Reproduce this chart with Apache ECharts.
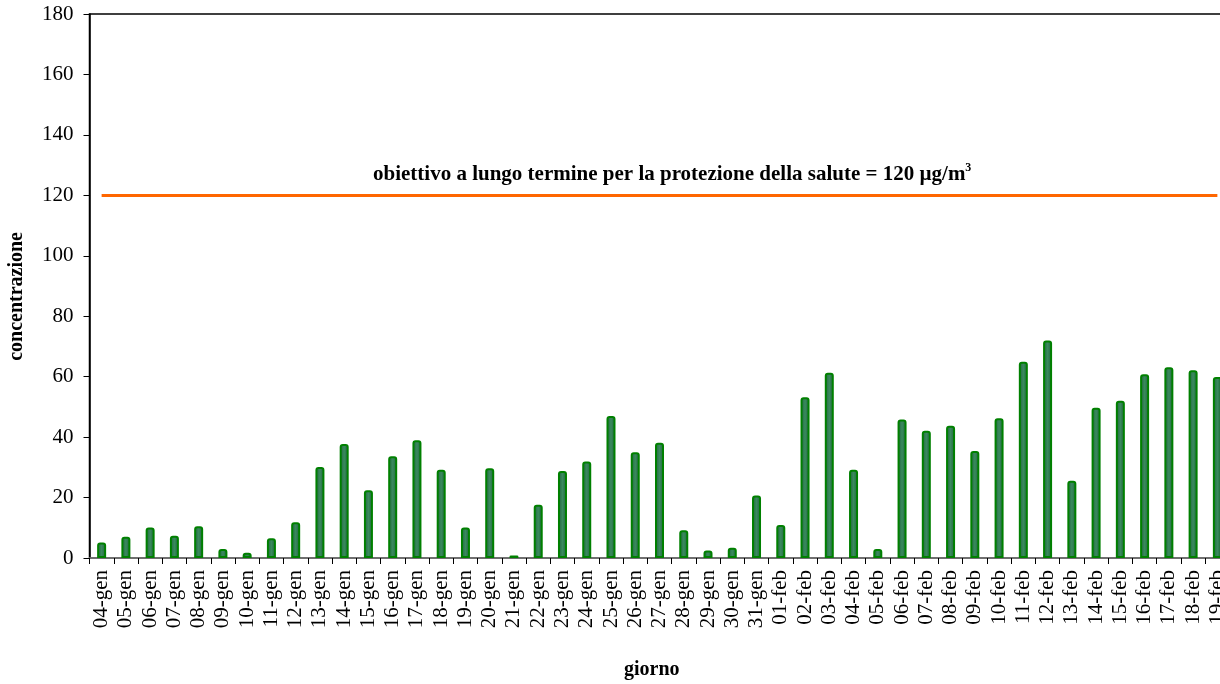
<!DOCTYPE html>
<html>
<head>
<meta charset="utf-8">
<script src="https://cdn.jsdelivr.net/npm/echarts@6/dist/echarts.min.js"></script>
<style>
html,body{margin:0;padding:0;background:#fff;}
#chart{width:1220px;height:684px;}
</style>
</head>
<body>
<div id="chart"></div>
<script>
var categories = ['04-gen','05-gen','06-gen','07-gen','08-gen','09-gen','10-gen','11-gen','12-gen','13-gen','14-gen','15-gen','16-gen','17-gen','18-gen','19-gen','20-gen','21-gen','22-gen','23-gen','24-gen','25-gen','26-gen','27-gen','28-gen','29-gen','30-gen','31-gen','01-feb','02-feb','03-feb','04-feb','05-feb','06-feb','07-feb','08-feb','09-feb','10-feb','11-feb','12-feb','13-feb','14-feb','15-feb','16-feb','17-feb','18-feb','19-feb'];
var concentrazione = [5.1,7.0,10.1,7.4,10.5,3.0,1.7,6.5,11.8,30.1,37.7,22.4,33.7,39.0,29.2,10.1,29.7,0.8,17.6,28.8,31.9,47.0,35.0,38.1,9.2,2.5,3.4,20.7,10.9,53.2,61.3,29.2,3.0,45.8,42.1,43.8,35.4,46.2,64.9,72.0,25.6,49.7,52.0,60.8,63.1,62.1,59.9];
var obiettivo = 120;
var yTicks = {min:0, max:180, interval:20};

var serif = 'Liberation Serif';
var chart = echarts.init(document.getElementById('chart'));
chart.setOption({
  animation:false,
  backgroundColor:'#fff',
  title:{
    text:'{a|obiettivo a lungo termine per la protezione della salute = ' + obiettivo + ' µg/m}{s|3}',
    left:368, top:157,
    textStyle:{
      rich:{
        a:{fontFamily:serif, fontWeight:'bold', fontSize:21, color:'#000'},
        s:{fontFamily:serif, fontWeight:'bold', fontSize:12, color:'#000', verticalAlign:'top', padding:[0,0,14,0]}
      }
    }
  },
  graphic:[
    {type:'text', left:7, top:232, rotation:Math.PI/2, style:{text:'concentrazione', font:'bold 20px "Liberation Serif"', fill:'#000'}},
    {type:'text', left:624, top:660, style:{text:'giorno', font:'bold 20px "Liberation Serif"', fill:'#000'}}
  ],
  grid:{left:89.5, top:14, height:544, width:1140, outerBoundsMode:'none', containLabel:false, show:true, borderColor:'#000', borderWidth:1.5, backgroundColor:'transparent'},
  xAxis:{
    type:'category', data:categories, boundaryGap:true,
    axisLine:{lineStyle:{color:'#808080', width:1.5}},
    axisTick:{show:true, length:6, lineStyle:{color:'#000'}},
    axisLabel:{rotate:90, fontFamily:serif, fontSize:21, color:'#000', margin:12, interval:0}
  },
  yAxis:{
    type:'value', min:yTicks.min, max:yTicks.max, interval:yTicks.interval,
    axisLine:{show:true, lineStyle:{color:'#000', width:1.5}},
    axisTick:{show:true, length:6, lineStyle:{color:'#000'}},
    splitLine:{show:false},
    axisLabel:{fontFamily:serif, fontSize:21, color:'#000', margin:16}
  },
  series:[{
    type:'bar', data:concentrazione, barWidth:9,
    itemStyle:{
      color:new echarts.graphic.LinearGradient(0,0,1,0,[
        {offset:0, color:'#1f5f3a'},{offset:0.5, color:'#3a8a5e'},{offset:1, color:'#1f5f3a'}
      ]),
      borderColor:'#008000', borderWidth:2, borderRadius:[2,2,0,0]
    },
    markLine:{
      silent:true, symbol:'none',
      lineStyle:{color:'#ff6600', width:3, type:'solid'},
      label:{show:false},
      data:[[{coord:[categories[0], obiettivo]},{coord:[categories[categories.length-1], obiettivo]}]]
    }
  }]
});
</script>
</body>
</html>
